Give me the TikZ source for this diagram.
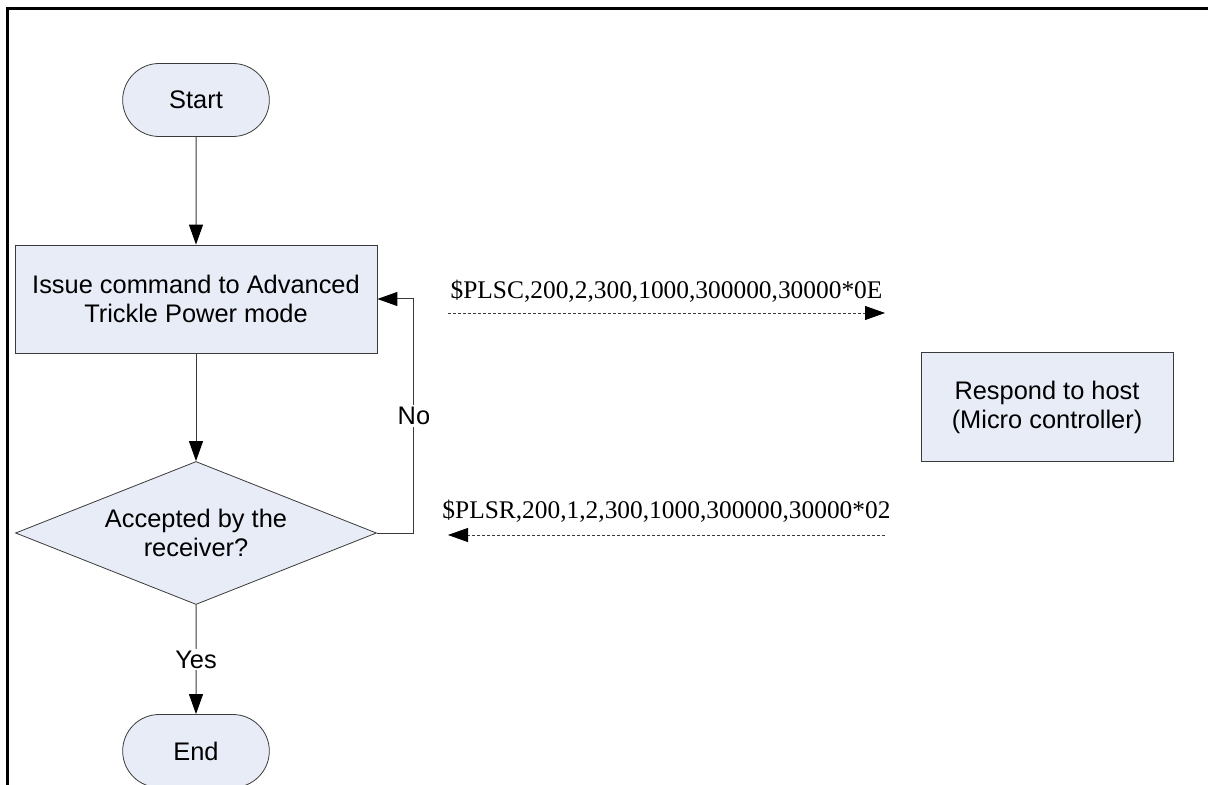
\documentclass[tikz,border=0pt]{standalone}
\usepackage{fontspec}
\setmainfont{Liberation Sans}
\newfontfamily\cmdfont{Liberation Serif}
\usepackage{tikz}
\usetikzlibrary{shapes.misc,shapes.geometric,arrows.meta,positioning,calc}

\definecolor{boxfill}{HTML}{E8ECF7}
\definecolor{linegray}{HTML}{3A3A3A}

\begin{document}
\begin{tikzpicture}[x=0.5pt,y=-0.5pt,
    every node/.style={font=\fontsize{12.7}{14.5}\selectfont},
    terminal/.style={rounded rectangle, draw=linegray, fill=boxfill, minimum width=80pt, minimum height=36.5pt},
    process/.style={rectangle, draw=linegray, fill=boxfill, align=center, inner sep=0pt},
    decision/.style={diamond, draw=linegray, fill=boxfill, align=center, aspect=2.5, inner sep=0pt, minimum width=180.5pt, minimum height=71.5pt},
    flow/.style={draw=linegray, line width=0.5pt, -{Triangle[length=10pt,width=7pt,color=black]}},
    msg/.style={draw=linegray, line width=0.4pt, dash pattern=on 1.5pt off 1pt, -{Triangle[length=10pt,width=7pt,color=black]}},
    msglabel/.style={font=\cmdfont\fontsize{12.7}{14.5}\selectfont, inner sep=0pt}]
    \useasboundingbox (0,0) rectangle (1208,785);
    % frame
    \draw[line width=1.5pt] (7,785) -- (7,9) -- (1208,9);

    \node[terminal] (start) at (196,100) {Start};
    \node[process, minimum width=181pt, minimum height=54pt] (issue) at (196,299) {Issue command to Advanced\\Trickle Power mode};
    \node[decision] (accept) at (196,533) {Accepted by the\\receiver?};
    \node[terminal] (finish) at (196,751) {End};
    \node[process, minimum width=126pt, minimum height=54.5pt] (respond) at (1047,407) {Respond to host\\(Micro controller)};

    \draw[flow] (start) -- (issue);
    \draw[flow] (issue) -- (accept);
    \draw[flow] (accept) -- node[fill=white, inner sep=1pt] {Yes} (finish);
    \draw[flow] (accept.east) -- ++(37,0) |- node[pos=0.25, fill=white, inner sep=1pt] {No} (issue.east);

    % messages
    \coordinate (cmdL) at (448,313);
    \coordinate (cmdR) at (885,313);
    \coordinate (rspL) at (448,535);
    \coordinate (rspR) at (885,535);
    \draw[msg] (cmdL) -- node[msglabel, above=5pt] {\$PLSC,200,2,300,1000,300000,30000*0E} (cmdR);
    \draw[msg] (rspR) -- node[msglabel, above=6pt] {\$PLSR,200,1,2,300,1000,300000,30000*02} (rspL);
\end{tikzpicture}
\end{document}
